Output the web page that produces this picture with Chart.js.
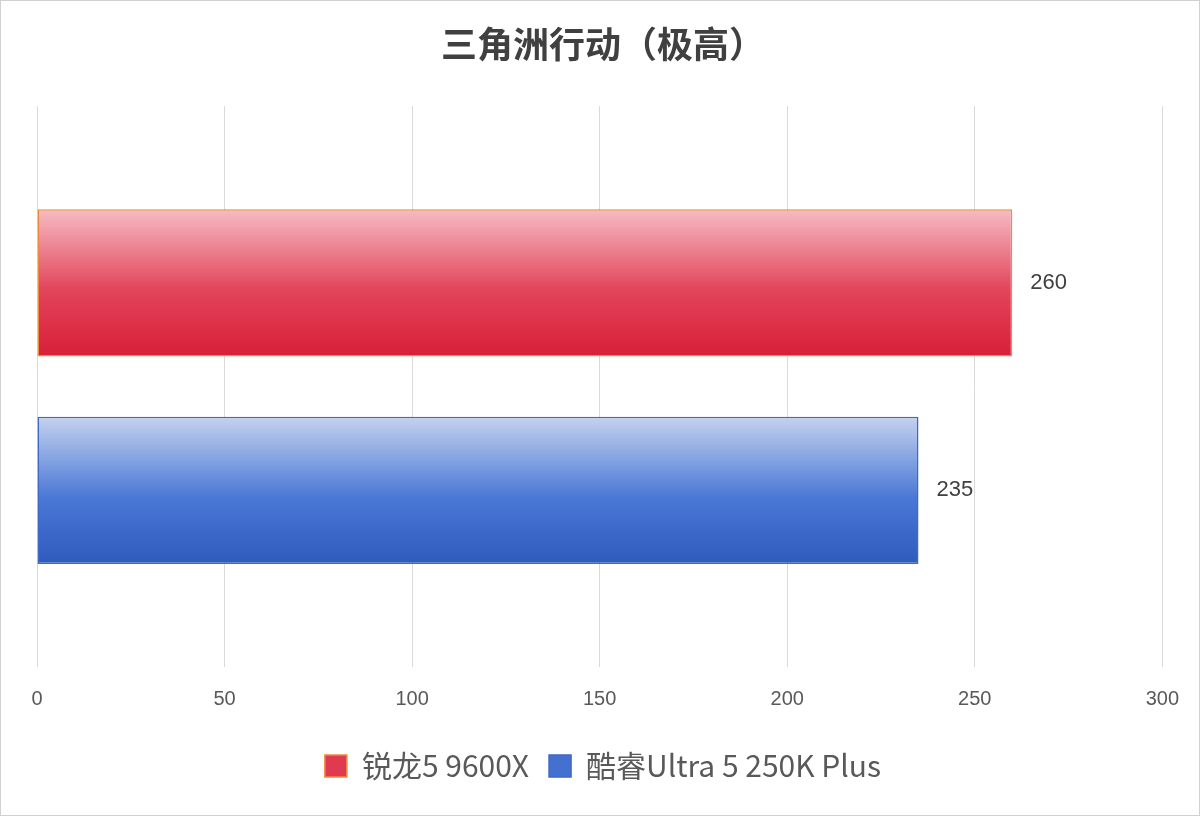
<!DOCTYPE html>
<html><head><meta charset="utf-8">
<script src="https://cdn.jsdelivr.net/npm/chart.js@4/dist/chart.umd.min.js"></script>
<style>html,body{margin:0;padding:0;background:#fff}#w{width:1198px;height:814px;border:1px solid #d0d0d0}</style>
</head><body><div id="w"><canvas id="c"></canvas></div>
<script>
const title = '三角洲行动（极高）';
const categories = [''];
const seriesNames = ['锐龙5 9600X', '酷睿Ultra 5 250K Plus'];
const seriesValues = [[260], [235]];
const xTicks = [0, 50, 100, 150, 200, 250, 300];

const grad = [
  {top:'#f6bcc4', mid:'#e2445a', bot:'#d81f38', border:'#ef8a3c', legend:'#e03a50'},
  {top:'#c5d2ee', mid:'#4a78d6', bot:'#2f5bbd', border:'#3f68c8', legend:'#4470d0'}
];
const gradPlugin = {
  id:'grad',
  beforeDatasetsDraw(chart){
    const ctx = chart.ctx;
    chart.data.datasets.forEach((ds,i)=>{
      chart.getDatasetMeta(i).data.forEach(el=>{
        const t = el.y - el.height/2, b = el.y + el.height/2;
        const g = ctx.createLinearGradient(0,t,0,b);
        g.addColorStop(0,grad[i].top); g.addColorStop(0.55,grad[i].mid); g.addColorStop(1,grad[i].bot);
        el.options.backgroundColor = g;
      });
    });
  }
};
const labelPlugin = {
  id:'lbl',
  afterDatasetsDraw(chart){
    const ctx = chart.ctx;
    ctx.save();
    ctx.font = '22px "Liberation Sans", Arial, sans-serif';
    ctx.fillStyle = '#404040'; ctx.textBaseline='middle'; ctx.textAlign='left';
    chart.data.datasets.forEach((ds,i)=>{
      chart.getDatasetMeta(i).data.forEach((el,j)=>{
        ctx.fillText(String(ds.data[j]), el.x + 18, el.y);
      });
    });
    ctx.restore();
  }
};
new Chart(document.getElementById('c'), {
  type:'bar',
  data:{labels:categories, datasets: seriesNames.map((n,i)=>({
    label:n, data:seriesValues[i], backgroundColor:grad[i].legend,
    borderColor:grad[i].border, borderWidth:1.5, borderSkipped:false,
    barPercentage:0.71, categoryPercentage:0.74
  }))},
  options:{
    indexAxis:'y', responsive:true, maintainAspectRatio:false, animation:false,
    layout:{padding:{left:28,right:22,top:4,bottom:24}},
    scales:{
      x:{min:0,max:300, afterBuildTicks(ax){ax.ticks = xTicks.map(v=>({value:v}));},
        grid:{color:'#d9d9d9', drawTicks:false}, border:{display:false},
        ticks:{color:'#595959', padding:20, font:{size:20, family:'"Liberation Sans", Arial, sans-serif'}}},
      y:{grid:{display:false}, border:{display:false}, ticks:{display:false}}
    },
    plugins:{
      title:{display:true, text:title, color:'#404040', padding:{top:18,bottom:40},
        font:{size:36, weight:'bold', family:'"Noto Sans CJK SC", sans-serif'}},
      legend:{position:'bottom', labels:{color:'#595959', boxWidth:22, boxHeight:22, padding:20,
        font:{size:30, family:'"Noto Sans CJK SC", "Liberation Sans", sans-serif'}}},
      tooltip:{enabled:false}
    }
  },
  plugins:[gradPlugin, labelPlugin]
});
</script></body></html>
